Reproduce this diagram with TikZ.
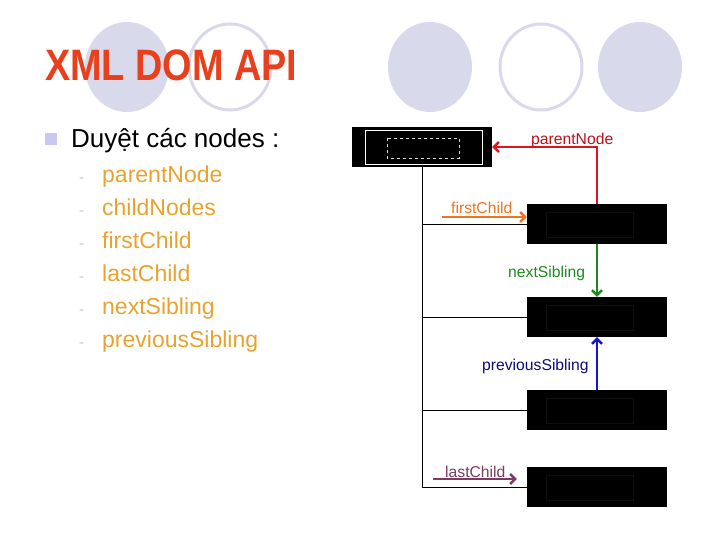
\documentclass[tikz,border=0pt]{standalone}
\usepackage{fontspec}
\setmainfont{Liberation Sans}
\usetikzlibrary{arrows.meta}

\definecolor{titlered}{HTML}{E8401C}
\definecolor{lavender}{HTML}{D9D9EC}
\definecolor{bulletblue}{HTML}{C8C8F0}
\definecolor{itemorange}{HTML}{E8A22E}
\definecolor{pnred}{HTML}{E0141E}
\definecolor{fcorange}{HTML}{EE7420}
\definecolor{nsgreen}{HTML}{1E8A1E}
\definecolor{psblue}{HTML}{1414CC}
\definecolor{lcpurple}{HTML}{7E3A62}

\begin{document}
\begin{tikzpicture}[
                    x=1pt, y=-1pt,
                    domnode/.style={
                        rectangle,
                        fill=black,
                        minimum width=140pt,
                        minimum height=40pt,
                        inner sep=0pt
                    },
                    link/.style={
                        line width=2pt,
                        -{Straight Barb[length=5pt,width=10pt,line width=2.4pt]}
                    },
                    lbl/.style={
                        anchor=base west,
                        inner sep=0pt,
                        font=\fontsize{15.7}{18}\selectfont
                    },
                    item/.style={
                        anchor=base west,
                        inner sep=0pt,
                        text=itemorange,
                        font=\fontsize{23}{26}\selectfont
                    }
                ]
                    \useasboundingbox (0,0) rectangle (720,540);

                    % Background circles
                    \fill[lavender] (127,67) ellipse [x radius=42, y radius=45];
                    \draw[lavender, line width=3pt] (230,67) ellipse [x radius=41, y radius=43];
                    \fill[lavender] (430,67) ellipse [x radius=42, y radius=45];
                    \draw[lavender, line width=3pt] (541,67) ellipse [x radius=41, y radius=43];
                    \fill[lavender] (640,67) ellipse [x radius=42, y radius=45];

                    % Title and list
                    \node[anchor=base west, inner sep=0pt, text=titlered,
                          font=\bfseries\fontsize{44}{48}\selectfont] (title) at (45,81)
                          {\scalebox{0.86}[1]{XML DOM API}};
                    \fill[bulletblue] (45,133) rectangle (57,145);
                    \node[anchor=base west, inner sep=0pt,
                          font=\fontsize{26}{30}\selectfont] (head) at (71,148) {Duyệt các nodes :};
                    \foreach \name [count=\i] in {parentNode, childNodes, firstChild,
                                                  lastChild, nextSibling, previousSibling} {
                        \node[item] (item\i) at (102,{183+(\i-1)*32.8}) {\name};
                        \node[anchor=base west, inner sep=0pt, text=gray!45,
                              font=\fontsize{15}{18}\selectfont] (dash\i) at (79,{183+(\i-1)*32.8}) {-};
                    }

                    % Nodes
                    \node[domnode] (root) at (422,147) {};
                    \node[domnode] (c1) at (597,224) {};
                    \node[domnode] (c2) at (597,317) {};
                    \node[domnode] (c3) at (597,410) {};
                    \node[domnode] (c4) at (597,487) {};
                    \draw[white, line width=0.6pt] (365,130) rectangle (482,164);
                    \draw[white!85!black, line width=0.6pt, dashed] (387,138) rectangle (459,158);
                    \foreach \c in {c1,c2,c3,c4}
                        \draw[black!94, line width=1.2pt] ([xshift=20pt,yshift=-9pt]\c.north west)
                            rectangle ([xshift=-34pt,yshift=7pt]\c.south east);

                    % Edges
                    \draw (root.south) -- (root.south |- c4.west);
                    \foreach \c in {c1,c2,c3,c4}
                        \draw (root.south |- \c.west) -- (\c.west);

                    % Links
                    \draw[link, pnred] (c1.north) |- (root.east);
                    \node[lbl, text=pnred!85!black] (pnlbl) at (531,145) {parentNode};

                    \coordinate (fcstart) at (442,217);
                    \draw[link, fcorange] (fcstart) -- (fcstart -| c1.west);
                    \node[lbl, text=fcorange] (fclbl) at (451,214) {firstChild};

                    \draw[link, nsgreen] (c1.south) -- (c2.north);
                    \node[lbl, text=nsgreen] (nslbl) at (508,277) {nextSibling};

                    \draw[link, psblue] (c3.north) -- (c2.south);
                    \node[lbl, text=psblue!60!black] (pslbl) at (482,370) {previousSibling};

                    \coordinate (lcstart) at (433,479);
                    \draw[link, lcpurple, shorten >=10pt] (lcstart) -- (lcstart -| c4.west);
                    \node[lbl, text=lcpurple] (lclbl) at (445,477) {lastChild};
                \end{tikzpicture}
\end{document}
